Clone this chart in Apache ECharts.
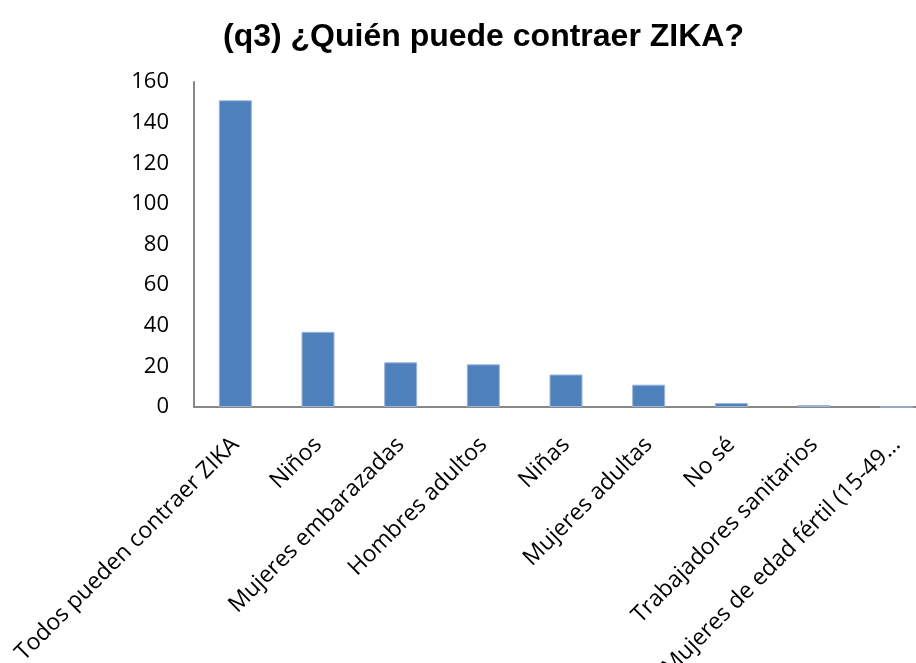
<!DOCTYPE html>
<html>
<head>
<meta charset="utf-8">
<script src="https://cdn.jsdelivr.net/npm/echarts@6/dist/echarts.min.js"></script>
<style>
  html, body { margin: 0; padding: 0; background: #fff; }
  #chart { width: 916px; height: 663px; }
</style>
</head>
<body>
<div id="chart"></div>
<script>
// Data
const categories = [
    "Todos pueden contraer ZIKA",
    "Niños",
    "Mujeres embarazadas",
    "Hombres adultos",
    "Niñas",
    "Mujeres adultas",
    "No sé",
    "Trabajadores sanitarios",
    "Mujeres de edad fértil (15-49…"
];
const counts = [151, 37, 22, 21, 16, 11, 2, 1, 0];
const yTicks = [0, 20, 40, 60, 80, 100, 120, 140, 160];

const myChart = echarts.init(document.getElementById('chart'));

const option = {
    animation: false,
    title: {
        text: "(q3) ¿Quién puede contraer ZIKA?",
        left: 218,
        top: 16,
        textStyle: { fontFamily: "Liberation Sans", fontWeight: "bold", fontSize: 32, color: "#000" }
    },
    // plot area runs past the right edge, like the clipped original
    grid: { left: 194, top: 82, bottom: 256, right: -22, containLabel: false, outerBoundsMode: 'none' },
    xAxis: {
        type: 'category',
        data: categories,
        axisLine: { lineStyle: { color: "#888888", width: 2 } },
        axisTick: { show: false },
        axisLabel: {
            rotate: 45,
            interval: 0,
            margin: 34,
            color: "#000",
            fontFamily: "Open Sans",
            fontSize: 23
        }
    },
    yAxis: {
        type: 'value',
        min: yTicks[0],
        max: yTicks[yTicks.length - 1],
        interval: 20,
        splitLine: { show: false },
        axisLine: { show: true, lineStyle: { color: "#888888", width: 2 } },
        axisTick: { show: false },
        axisLabel: { color: "#000", fontFamily: "Open Sans", fontSize: 22, margin: 25 }
    },
    series: [{
        type: 'bar',
        data: counts,
        barWidth: 33,
        itemStyle: { color: "#4F81BD", borderColor: "#9BB5DA", borderWidth: 1 }
    }]
};

myChart.setOption(option);
</script>
</body>
</html>
